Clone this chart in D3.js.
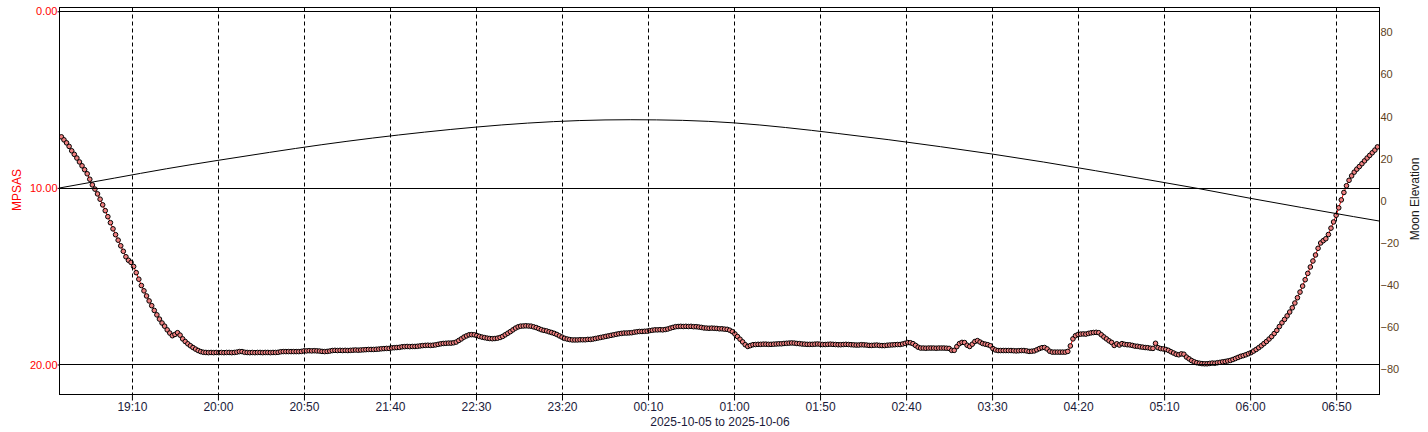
<!DOCTYPE html>
<html lang="en">
<head>
<meta charset="UTF-8">
<title>MPSAS and Moon Elevation</title>
<script src="https://d3js.org/d3.v7.min.js"></script>
<style>
  body { margin: 0; background: #fff; }
  svg { display: block; font-family: "Liberation Sans", Arial, sans-serif; }
</style>
</head>
<body>
<div id="chart"></div>
<script>
// Sky brightness readings, one every 90 s starting at sampleStart
const sampleStart = "2025-10-05 18:29";
const sampleStepMinutes = 1.5;
const mpsas = [
  7.11, 7.28, 7.45, 7.65, 7.90, 8.10, 8.31, 8.53, 8.75, 8.97,
  9.20, 9.51, 9.83, 10.07, 10.34, 10.64, 10.96, 11.29, 11.63, 11.97,
  12.32, 12.65, 12.96, 13.28, 13.59, 13.90, 14.10, 14.22, 14.45, 14.80,
  15.17, 15.53, 15.83, 16.12, 16.40, 16.67, 16.94, 17.19, 17.43, 17.65,
  17.83, 18.04, 18.22, 18.37, 18.30, 18.20, 18.34, 18.55, 18.70, 18.83,
  18.94, 19.04, 19.13, 19.21, 19.27, 19.31, 19.32, 19.33, 19.32, 19.33,
  19.32, 19.33, 19.32, 19.33, 19.32, 19.32, 19.33, 19.32, 19.30, 19.27,
  19.27, 19.31, 19.32, 19.33, 19.32, 19.33, 19.32, 19.32, 19.33, 19.32,
  19.32, 19.33, 19.32, 19.32, 19.31, 19.28, 19.27, 19.27, 19.27, 19.27,
  19.27, 19.27, 19.27, 19.26, 19.23, 19.23, 19.22, 19.23, 19.22, 19.23,
  19.24, 19.26, 19.27, 19.26, 19.24, 19.21, 19.20, 19.21, 19.20, 19.21,
  19.20, 19.21, 19.20, 19.19, 19.18, 19.19, 19.18, 19.17, 19.16, 19.15,
  19.15, 19.15, 19.14, 19.13, 19.11, 19.10, 19.09, 19.09, 19.06, 19.05,
  19.04, 19.03, 19.00, 18.99, 18.98, 18.99, 18.98, 18.98, 18.97, 18.95,
  18.93, 18.92, 18.91, 18.92, 18.91, 18.89, 18.86, 18.83, 18.81, 18.80,
  18.79, 18.79, 18.77, 18.73, 18.64, 18.55, 18.45, 18.38, 18.32, 18.31,
  18.32, 18.36, 18.41, 18.45, 18.48, 18.51, 18.53, 18.54, 18.53, 18.51,
  18.47, 18.41, 18.32, 18.23, 18.14, 18.04, 17.94, 17.87, 17.83, 17.82,
  17.81, 17.82, 17.83, 17.87, 17.91, 17.97, 18.03, 18.07, 18.10, 18.15,
  18.19, 18.24, 18.30, 18.38, 18.45, 18.52, 18.56, 18.59, 18.61, 18.61,
  18.61, 18.60, 18.60, 18.60, 18.58, 18.58, 18.56, 18.53, 18.50, 18.47,
  18.44, 18.41, 18.38, 18.35, 18.32, 18.29, 18.26, 18.24, 18.22, 18.22,
  18.21, 18.20, 18.17, 18.15, 18.13, 18.13, 18.12, 18.11, 18.08, 18.06,
  18.04, 18.04, 18.03, 18.04, 18.02, 17.99, 17.94, 17.90, 17.86, 17.85,
  17.84, 17.85, 17.84, 17.85, 17.84, 17.86, 17.86, 17.88, 17.90, 17.93,
  17.94, 17.95, 17.94, 17.95, 17.96, 17.98, 17.98, 18.00, 18.01, 18.06,
  18.14, 18.27, 18.42, 18.57, 18.72, 18.88, 18.98, 18.93, 18.88, 18.87,
  18.86, 18.86, 18.85, 18.85, 18.86, 18.86, 18.85, 18.84, 18.83, 18.83,
  18.81, 18.80, 18.79, 18.78, 18.79, 18.81, 18.82, 18.84, 18.85, 18.86,
  18.86, 18.86, 18.85, 18.84, 18.85, 18.87, 18.87, 18.86, 18.85, 18.86,
  18.87, 18.88, 18.88, 18.87, 18.86, 18.87, 18.88, 18.89, 18.90, 18.90,
  18.88, 18.89, 18.90, 18.92, 18.92, 18.91, 18.90, 18.92, 18.93, 18.93,
  18.91, 18.90, 18.89, 18.88, 18.87, 18.87, 18.84, 18.80, 18.76, 18.77,
  18.82, 18.92, 19.02, 19.07, 19.07, 19.08, 19.07, 19.07, 19.07, 19.08,
  19.07, 19.07, 19.07, 19.08, 19.09, 19.20, 19.20, 18.99, 18.82, 18.75,
  18.76, 18.91, 18.98, 18.85, 18.70, 18.65, 18.73, 18.81, 18.85, 18.88,
  18.94, 19.10, 19.18, 19.21, 19.21, 19.21, 19.21, 19.21, 19.21, 19.22,
  19.23, 19.22, 19.21, 19.21, 19.23, 19.26, 19.25, 19.23, 19.17, 19.10,
  19.05, 19.04, 19.12, 19.25, 19.30, 19.30, 19.30, 19.30, 19.30, 19.30,
  19.26, 18.95, 18.55, 18.37, 18.30, 18.28, 18.27, 18.28, 18.24, 18.21,
  18.19, 18.18, 18.20, 18.32, 18.44, 18.55, 18.66, 18.75, 18.92, 18.83,
  18.90, 18.82, 18.86, 18.88, 18.89, 18.92, 18.96, 18.97, 19.00, 19.02,
  19.04, 19.05, 19.08, 19.09, 18.80, 19.05, 19.10, 19.12, 19.15, 19.20,
  19.28, 19.35, 19.42, 19.45, 19.40, 19.42, 19.58, 19.68, 19.78, 19.85,
  19.90, 19.93, 19.95, 19.96, 19.96, 19.94, 19.92, 19.93, 19.90, 19.88,
  19.85, 19.83, 19.80, 19.77, 19.72, 19.66, 19.60, 19.54, 19.50, 19.45,
  19.39, 19.33, 19.24, 19.15, 19.05, 18.94, 18.82, 18.70, 18.56, 18.42,
  18.25, 18.07, 17.85, 17.64, 17.45, 17.25, 17.03, 16.79, 16.52, 16.22,
  15.90, 15.56, 15.20, 14.84, 14.48, 14.14, 13.80, 13.42, 13.12, 12.99,
  12.88, 12.64, 12.28, 11.93, 11.55, 11.13, 10.68, 10.26, 9.88, 9.57,
  9.32, 9.11, 8.94, 8.79, 8.63, 8.47, 8.31, 8.16, 8.01, 7.86,
  7.68
];

// Moon elevation (degrees)
const moonTimes = ["18:28", "19:00", "19:30", "20:00", "20:30", "21:00", "21:30", "22:00", "22:30",
  "23:00", "23:30", "00:00", "00:30", "01:00", "01:30", "02:00", "02:30", "03:00", "03:30",
  "04:00", "04:30", "05:00", "05:30", "06:00", "06:30", "07:00", "07:15"];
const moonElevation = [6.1, 10.8, 15.2, 19.2, 23.0, 26.6, 29.8, 32.6, 35.0,
  36.9, 38.1, 38.5, 38.2, 37.0, 34.8, 32.0, 29.0, 25.7, 22.2,
  18.4, 14.3, 10.1, 5.8, 1.2, -3.2, -7.5, -9.6];

// Axis ticks
const xTickLabels = ["19:10", "20:00", "20:50", "21:40", "22:30", "23:20", "00:10",
  "01:00", "01:50", "02:40", "03:30", "04:20", "05:10", "06:00", "06:50"];
const mpsasTicks = [0, 10, 20];
const moonTicks = [-80, -60, -40, -20, 0, 20, 40, 60, 80];
const xTitle = "2025-10-05 to 2025-10-06";

const width = 1428, height = 432;
const plot = { left: 59.5, right: 1379.5, top: 7.5, bottom: 394.5 };

// "HH:MM" -> Date on the evening of the 5th or the morning of the 6th
function clockToDate(hm) {
  const [h, m] = hm.split(":").map(Number);
  return new Date(2025, 9, h >= 12 ? 5 : 6, h, m);
}

const parseFull = d3.timeParse("%Y-%m-%d %H:%M");
const t0 = parseFull(sampleStart);
const series = mpsas.map((v, i) => ({
  t: new Date(t0.getTime() + i * sampleStepMinutes * 60000),
  v: v
}));
const moon = moonTimes.map((s, i) => ({ t: clockToDate(s), v: moonElevation[i] }));

const x = d3.scaleTime()
  .domain([new Date(2025, 9, 5, 18, 27, 54), new Date(2025, 9, 6, 7, 15, 12)])
  .range([plot.left, plot.right]);
const yL = d3.scaleLinear().domain([-0.215, 21.70]).range([plot.top, plot.bottom]);
const yR = d3.scaleLinear().domain([-92.0, 91.8]).range([plot.bottom, plot.top]);

const svg = d3.select("#chart").append("svg")
  .attr("width", width)
  .attr("height", height);

svg.append("defs").append("clipPath").attr("id", "plotClip")
  .append("rect")
  .attr("x", plot.left).attr("y", plot.top)
  .attr("width", plot.right - plot.left)
  .attr("height", plot.bottom - plot.top);

const inner = svg.append("g").attr("clip-path", "url(#plotClip)");

// MPSAS series: thin red line with markers
inner.append("path")
  .datum(series)
  .attr("fill", "none")
  .attr("stroke", "#ff0000")
  .attr("stroke-width", 1)
  .attr("d", d3.line().x(d => x(d.t)).y(d => yL(d.v)));

inner.selectAll("circle.pt")
  .data(series)
  .enter()
  .append("circle")
  .attr("class", "pt")
  .attr("cx", d => x(d.t))
  .attr("cy", d => yL(d.v))
  .attr("r", 2.3)
  .attr("fill", "#f08080")
  .attr("stroke", "#000")
  .attr("stroke-width", 1);

// grid lines
const xTicks = xTickLabels.map(clockToDate);
inner.selectAll("line.vgrid")
  .data(xTicks)
  .enter()
  .append("line")
  .attr("x1", d => Math.round(x(d)) + 0.5)
  .attr("x2", d => Math.round(x(d)) + 0.5)
  .attr("y1", plot.top)
  .attr("y2", plot.bottom)
  .attr("stroke", "#000")
  .attr("stroke-width", 1)
  .attr("stroke-dasharray", "4,3");

inner.selectAll("line.hgrid")
  .data(mpsasTicks)
  .enter()
  .append("line")
  .attr("x1", plot.left)
  .attr("x2", plot.right)
  .attr("y1", d => Math.round(yL(d)) + 0.5)
  .attr("y2", d => Math.round(yL(d)) + 0.5)
  .attr("stroke", "#000")
  .attr("stroke-width", 1);

// moon elevation
inner.append("path")
  .datum(moon)
  .attr("fill", "none")
  .attr("stroke", "#000")
  .attr("stroke-width", 1)
  .attr("d", d3.line().curve(d3.curveMonotoneX).x(d => x(d.t)).y(d => yR(d.v)));

// frame
svg.append("rect")
  .attr("x", plot.left).attr("y", plot.top)
  .attr("width", plot.right - plot.left)
  .attr("height", plot.bottom - plot.top)
  .attr("fill", "none")
  .attr("stroke", "#000")
  .attr("stroke-width", 1);

// axes
const xAxis = svg.append("g")
  .attr("transform", `translate(0,${plot.bottom})`)
  .call(d3.axisBottom(x).tickValues(xTicks).tickFormat(d3.timeFormat("%H:%M")).tickSize(6).tickPadding(2));
xAxis.select(".domain").remove();
xAxis.selectAll("line").attr("stroke", "#000");
xAxis.selectAll("text").attr("fill", "#1a1a3a").style("font-size", "12px");

const leftAxis = svg.append("g")
  .attr("transform", `translate(${plot.left},0)`)
  .call(d3.axisLeft(yL).tickValues(mpsasTicks).tickFormat(d3.format(".2f")).tickSize(2).tickPadding(0));
leftAxis.select(".domain").remove();
leftAxis.selectAll("line").attr("stroke", "#000");
leftAxis.selectAll("text").attr("fill", "#ff0000").style("font-size", "11px");

const rightAxis = svg.append("g")
  .attr("transform", `translate(${plot.right},0)`)
  .call(d3.axisRight(yR).tickValues(moonTicks).tickFormat(d3.format("d")).tickSize(0).tickPadding(1));
rightAxis.select(".domain").remove();
rightAxis.selectAll("text").attr("fill", "#5e3f1c").style("font-size", "11px");

// titles
svg.append("text")
  .attr("transform", `translate(17,190) rotate(-90)`)
  .attr("text-anchor", "middle")
  .attr("dy", "0.35em")
  .attr("fill", "#ff0000")
  .style("font-size", "12px")
  .text("MPSAS");

svg.append("text")
  .attr("transform", `translate(1415,199) rotate(-90)`)
  .attr("text-anchor", "middle")
  .attr("dy", "0.35em")
  .attr("fill", "#1a1a1a")
  .style("font-size", "12px")
  .text("Moon Elevation");

svg.append("text")
  .attr("x", 720)
  .attr("y", 425.5)
  .attr("text-anchor", "middle")
  .attr("fill", "#1a1a3a")
  .style("font-size", "12px")
  .text(xTitle);
</script>
</body>
</html>
